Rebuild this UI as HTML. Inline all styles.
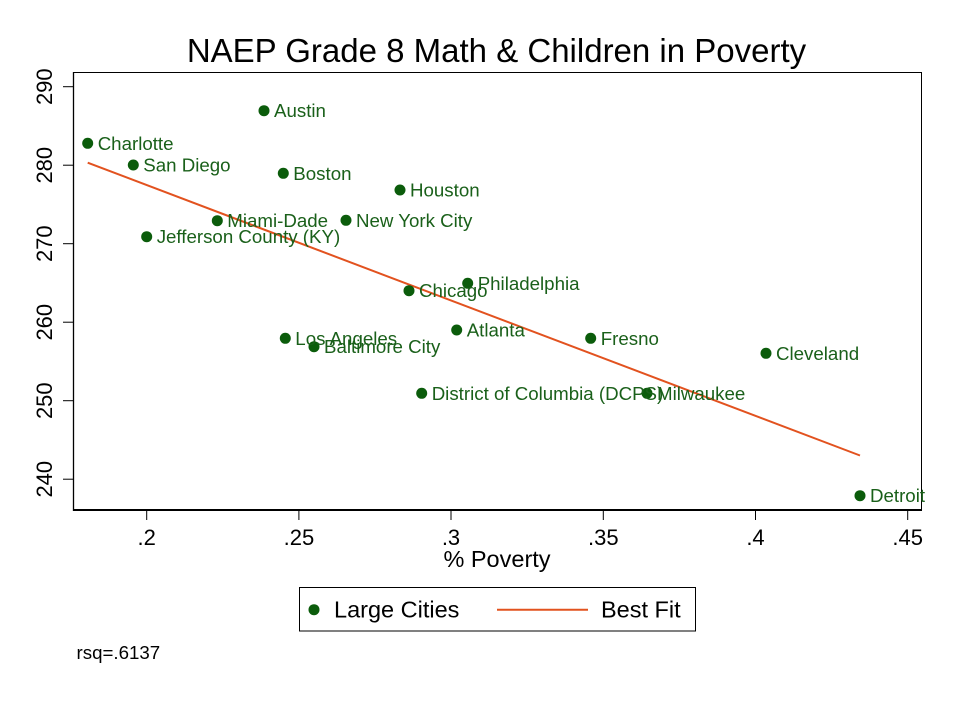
<!DOCTYPE html>
<html><head><meta charset="utf-8"><style>
html,body{margin:0;padding:0;background:#fff;}
svg{display:block;font-family:"Liberation Sans",Arial,sans-serif;}
</style></head><body>
<svg width="960" height="720" viewBox="0 0 960 720" xmlns="http://www.w3.org/2000/svg">
<rect width="960" height="720" fill="#fff"/>
<text x="496.5" y="62" font-size="33" text-anchor="middle" fill="#000">NAEP Grade 8 Math &amp; Children in Poverty</text>
<!-- frame -->
<line x1="73" y1="72.5" x2="922" y2="72.5" stroke="#000" stroke-width="1"/>
<line x1="921.5" y1="72" x2="921.5" y2="510" stroke="#000" stroke-width="1"/>
<line x1="73.5" y1="72" x2="73.5" y2="511" stroke="#000" stroke-width="1.3"/>
<line x1="73" y1="510" x2="922" y2="510" stroke="#000" stroke-width="2"/>
<!-- y ticks -->
<g stroke="#000" stroke-width="1">
<line x1="63" y1="86.7" x2="73" y2="86.7"/>
<line x1="63" y1="165.2" x2="73" y2="165.2"/>
<line x1="63" y1="243.7" x2="73" y2="243.7"/>
<line x1="63" y1="322.2" x2="73" y2="322.2"/>
<line x1="63" y1="400.7" x2="73" y2="400.7"/>
<line x1="63" y1="479.2" x2="73" y2="479.2"/>
</g>
<g font-size="22" fill="#000" text-anchor="middle">
<text transform="translate(52,86.7) rotate(-90)">290</text>
<text transform="translate(52,165.2) rotate(-90)">280</text>
<text transform="translate(52,243.7) rotate(-90)">270</text>
<text transform="translate(52,322.2) rotate(-90)">260</text>
<text transform="translate(52,400.7) rotate(-90)">250</text>
<text transform="translate(52,479.2) rotate(-90)">240</text>
</g>
<!-- x ticks -->
<g stroke="#000" stroke-width="1">
<line x1="146.7" y1="510" x2="146.7" y2="520"/>
<line x1="298.9" y1="510" x2="298.9" y2="520"/>
<line x1="451" y1="510" x2="451" y2="520"/>
<line x1="603.3" y1="510" x2="603.3" y2="520"/>
<line x1="755.5" y1="510" x2="755.5" y2="520"/>
<line x1="907.7" y1="510" x2="907.7" y2="520"/>
</g>
<g font-size="22" fill="#000" text-anchor="middle">
<text x="146.7" y="545">.2</text>
<text x="298.9" y="545">.25</text>
<text x="451" y="545">.3</text>
<text x="603.3" y="545">.35</text>
<text x="755.5" y="545">.4</text>
<text x="907.7" y="545">.45</text>
</g>
<text x="497" y="567" font-size="23.5" text-anchor="middle" fill="#000">% Poverty</text>
<!-- fit line -->
<line x1="87.7" y1="162.7" x2="860" y2="455.5" stroke="#e2521f" stroke-width="2"/>
<!-- points -->
<g fill="#0b5c0b">
<circle cx="87.7" cy="143.3" r="5.5"/>
<circle cx="133.3" cy="165" r="5.5"/>
<circle cx="264" cy="110.7" r="5.5"/>
<circle cx="283.3" cy="173.3" r="5.5"/>
<circle cx="400" cy="190" r="5.5"/>
<circle cx="217.3" cy="220.7" r="5.5"/>
<circle cx="346" cy="220.3" r="5.5"/>
<circle cx="146.7" cy="236.7" r="5.5"/>
<circle cx="409" cy="290.7" r="5.5"/>
<circle cx="467.7" cy="283.3" r="5.5"/>
<circle cx="285.3" cy="338.3" r="5.5"/>
<circle cx="314" cy="346.7" r="5.5"/>
<circle cx="456.7" cy="330" r="5.5"/>
<circle cx="590.7" cy="338.3" r="5.5"/>
<circle cx="766" cy="353.3" r="5.5"/>
<circle cx="421.7" cy="393.3" r="5.5"/>
<circle cx="647" cy="393.3" r="5.5"/>
<circle cx="860" cy="495.7" r="5.5"/>
</g>
<g font-size="18.7" fill="#1a601a">
<text x="97.7" y="149.8">Charlotte</text>
<text x="143.3" y="171.5">San Diego</text>
<text x="274" y="117.2">Austin</text>
<text x="293.3" y="179.8">Boston</text>
<text x="410" y="196.5">Houston</text>
<text x="227.3" y="227.2">Miami-Dade</text>
<text x="356" y="226.8">New York City</text>
<text x="156.7" y="243.2">Jefferson County (KY)</text>
<text x="419" y="297.2">Chicago</text>
<text x="477.7" y="289.8">Philadelphia</text>
<text x="295.3" y="344.8">Los Angeles</text>
<text x="324" y="353.2">Baltimore City</text>
<text x="466.7" y="336.5">Atlanta</text>
<text x="600.7" y="344.8">Fresno</text>
<text x="776" y="359.8">Cleveland</text>
<text x="431.7" y="399.8">District of Columbia (DCPS)</text>
<text x="657" y="399.8">Milwaukee</text>
<text x="870" y="502.2">Detroit</text>
</g>
<!-- legend -->
<rect x="299.5" y="587.5" width="396" height="43.5" fill="none" stroke="#000" stroke-width="1"/>
<circle cx="314" cy="609.7" r="5.5" fill="#0b5c0b"/>
<text x="334" y="617.7" font-size="23.5" fill="#000">Large Cities</text>
<line x1="497" y1="609.7" x2="588" y2="609.7" stroke="#e2521f" stroke-width="2"/>
<text x="601" y="617.7" font-size="23.5" fill="#000">Best Fit</text>
<text x="76.5" y="659" font-size="18.7" fill="#000">rsq=.6137</text>
</svg>
</body></html>
